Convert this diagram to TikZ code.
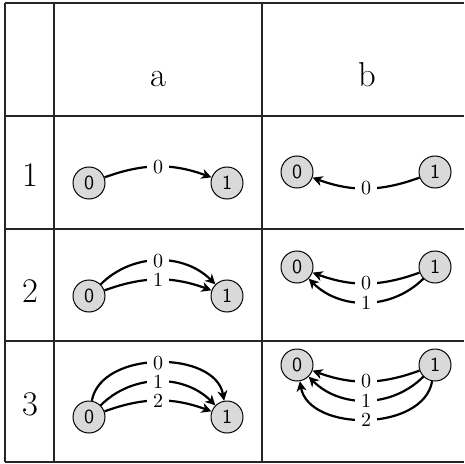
\documentclass[tikz,border=0pt]{standalone}
\usetikzlibrary{arrows.meta,positioning}
\tikzset{
  state/.style={circle, draw, line width=0.5pt, fill=black!15,
                minimum size=16pt, inner sep=0pt, font=\sffamily\normalsize},
  edge/.style={line width=1.1pt, -{Stealth[length=5pt,width=5pt,inset=1.5pt]}},
  lab/.style={fill=white, inner xsep=3pt, inner ysep=1pt, font=\normalsize},
  gridline/.style={line width=0.6pt, draw=black!85},
  head/.style={font=\LARGE, anchor=base}
}
\begin{document}
\begin{tikzpicture}[x=0.5pt, y=-0.5pt]
  \useasboundingbox (0,0) rectangle (464,464);

  % Table lines
  \draw[gridline] (5,3) -- (464,3);
  \draw[gridline] (5,116) -- (464,116);
  \draw[gridline] (5,229) -- (464,229);
  \draw[gridline] (5,341) -- (464,341);
  \draw[gridline] (5,462) -- (464,462);
  \draw[gridline] (5,3) -- (5,462);
  \draw[gridline] (54,3) -- (54,462);
  \draw[gridline] (262,3) -- (262,462);

  % Headers
  \node(ha)[head] at (158,87) {a};
  \node(hb)[head] at (367,87) {b};
  \node(r1)[head] at (30,187) {1};
  \node(r2)[head] at (30,302) {2};
  \node(r3)[head] at (30,415) {3};

  % Row 1
  \node(a1-0)[state] at (89,183) {0};
  \node[right=52.5pt of a1-0] (a1-1)[state] {1};
  \node(b1-0)[state] at (297,172) {0};
  \node[right=52.5pt of b1-0] (b1-1)[state] {1};

  % Row 2
  \node(a2-0)[state] at (89,296) {0};
  \node[right=52.5pt of a2-0] (a2-1)[state] {1};
  \node(b2-0)[state] at (297,267) {0};
  \node[right=52.5pt of b2-0] (b2-1)[state] {1};

  % Row 3
  \node(a3-0)[state] at (89,417) {0};
  \node[right=52.5pt of a3-0] (a3-1)[state] {1};
  \node(b3-0)[state] at (297,365) {0};
  \node[right=52.5pt of b3-0] (b3-1)[state] {1};

  % Arrows, column a
  \draw[edge] (a1-0) to[bend left=20] node[lab] {0} (a1-1);

  \draw[edge] (a2-0) to[bend left=45] node[lab] {0} (a2-1);
  \draw[edge] (a2-0) to[bend left=20] node[lab] {1} (a2-1);

  \draw[edge] (a3-0) to[bend left=80] node[lab] {0} (a3-1);
  \draw[edge] (a3-0) to[bend left=45] node[lab] {1} (a3-1);
  \draw[edge] (a3-0) to[bend left=20] node[lab] {2} (a3-1);

  % Arrows, column b
  \draw[edge] (b1-1) to[bend left=20] node[lab] {0} (b1-0);

  \draw[edge] (b2-1) to[bend left=20] node[lab] {0} (b2-0);
  \draw[edge] (b2-1) to[bend left=45] node[lab] {1} (b2-0);

  \draw[edge] (b3-1) to[bend left=20] node[lab] {0} (b3-0);
  \draw[edge] (b3-1) to[bend left=45] node[lab] {1} (b3-0);
  \draw[edge] (b3-1) to[bend left=80] node[lab] {2} (b3-0);

\end{tikzpicture}
\end{document}
